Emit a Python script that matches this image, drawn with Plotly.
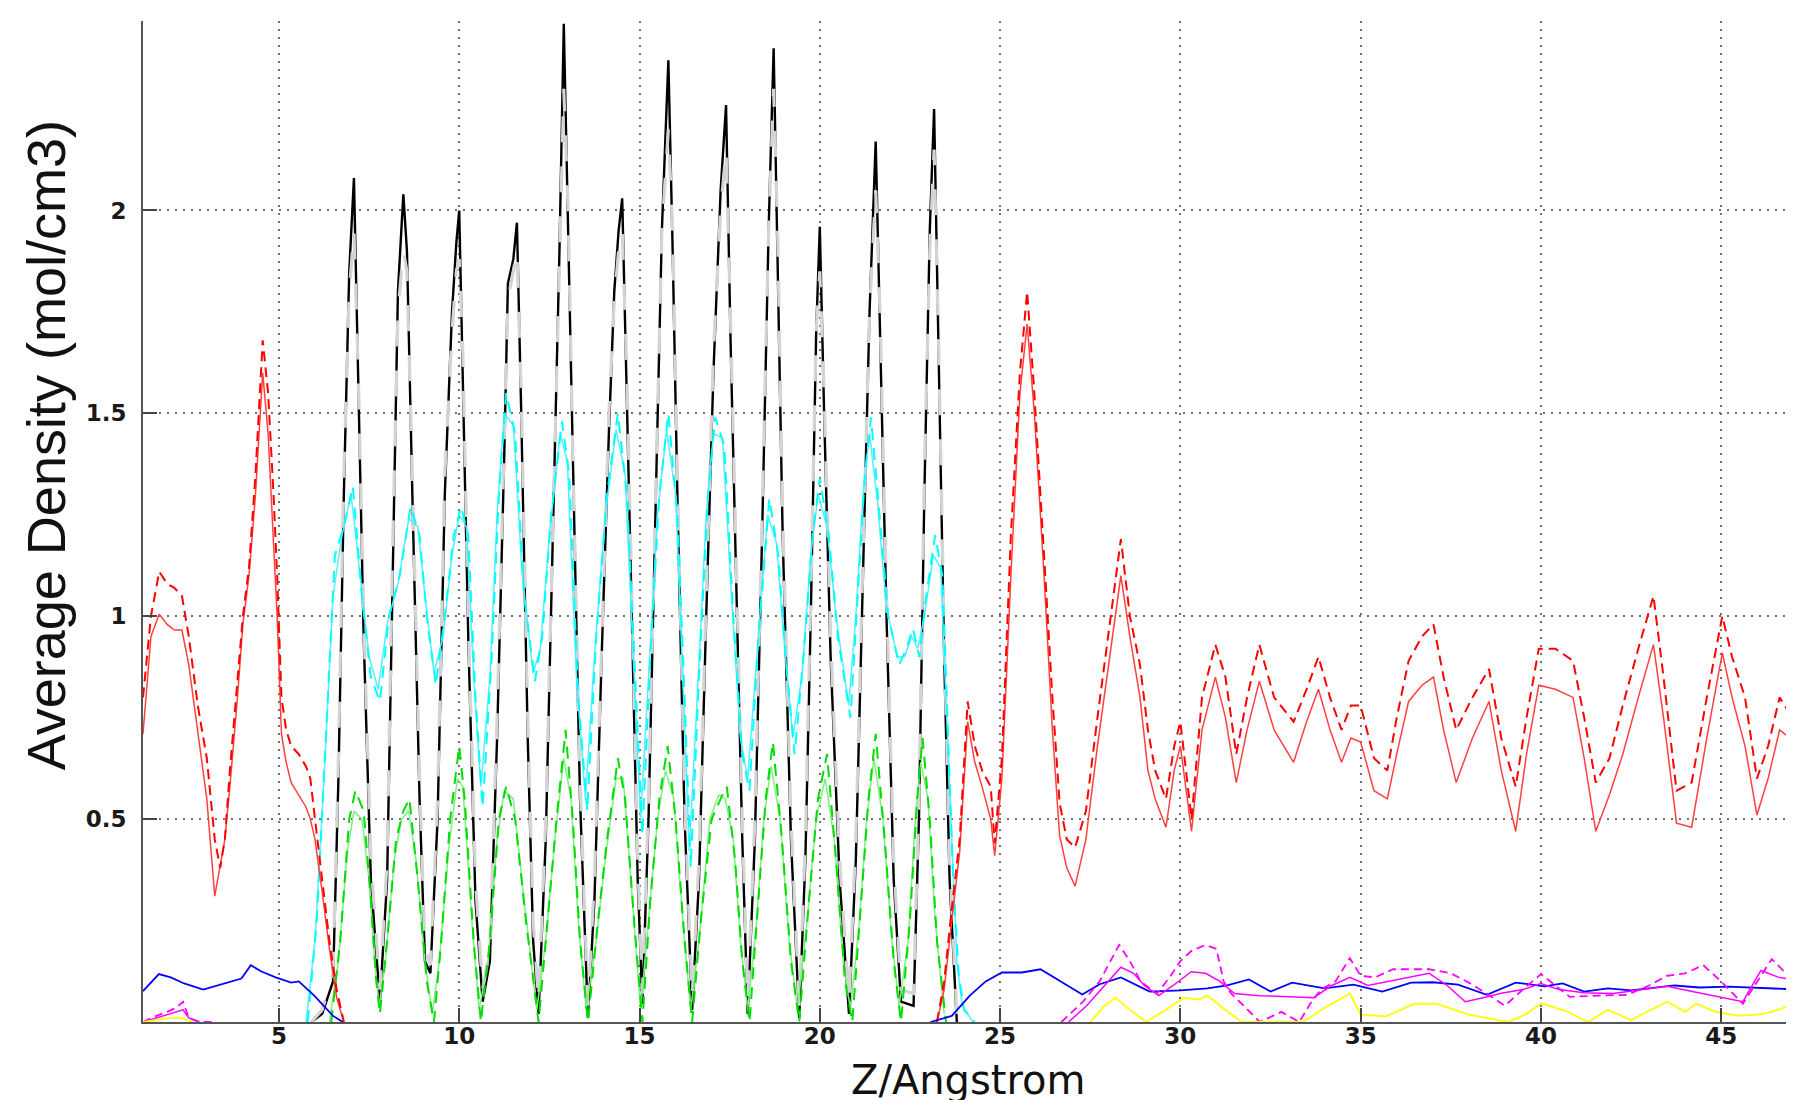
import plotly.graph_objects as go

# ---------------- data ----------------
black_x = [5.9, 6.2, 6.5, 6.65, 6.8, 6.95, 7.08, 7.2, 7.35, 7.55, 7.8,
           8.0, 8.15, 8.3, 8.45, 8.55, 8.7, 8.9, 9.05, 9.2,
           9.4, 9.6, 9.8, 9.92, 10.0, 10.1, 10.25, 10.45, 10.65,
           10.85, 11.05, 11.25, 11.35, 11.5, 11.6, 11.72, 11.9, 12.05, 12.2,
           12.4, 12.6, 12.78, 12.9, 13.02, 13.15, 13.35, 13.57,
           13.75, 13.95, 14.15, 14.3, 14.42, 14.52, 14.65, 14.8, 14.95, 15.08,
           15.25, 15.45, 15.62, 15.8, 15.92, 16.05, 16.25, 16.46,
           16.65, 16.85, 17.05, 17.25, 17.4, 17.52, 17.68, 17.85, 18.0,
           18.2, 18.4, 18.58, 18.72, 18.83, 18.97, 19.2, 19.43,
           19.6, 19.75, 19.9, 20.0, 20.12, 20.3, 20.55, 20.81,
           21.0, 21.2, 21.38, 21.55, 21.67, 21.85, 22.05, 22.25, 22.6,
           22.75, 22.9, 23.05, 23.17, 23.3, 23.45, 23.6, 23.8]
black_y = [0.00, 0.02, 0.10, 0.60, 1.30, 1.85, 2.08, 1.55, 0.95, 0.35, 0.05,
           0.35, 1.10, 1.80, 2.04, 1.90, 1.30, 0.55, 0.15, 0.12,
           0.50, 1.30, 1.75, 1.92, 2.00, 1.60, 0.95, 0.30, 0.05,
           0.15, 0.70, 1.40, 1.82, 1.88, 1.97, 1.50, 0.70, 0.20, 0.02,
           0.45, 1.20, 1.90, 2.46, 1.95, 1.35, 0.55, 0.01,
           0.30, 0.90, 1.45, 1.80, 1.95, 2.03, 1.55, 0.95, 0.35, 0.045,
           0.50, 1.25, 1.95, 2.37, 1.90, 1.30, 0.50, 0.03,
           0.35, 1.00, 1.60, 2.05, 2.26, 1.70, 1.10, 0.45, 0.02,
           0.45, 1.20, 1.95, 2.40, 1.90, 1.20, 0.45, 0.01,
           0.40, 1.00, 1.70, 1.96, 1.50, 0.90, 0.35, 0.02,
           0.40, 1.10, 1.75, 2.17, 1.70, 1.00, 0.35, 0.05, 0.04,
           0.50, 1.30, 1.95, 2.25, 1.60, 0.90, 0.35, 0.00]
gray_y = [0.00, 0.03, 0.12, 0.65, 1.35, 1.80, 1.95, 1.60, 1.00, 0.40, 0.08,
          0.40, 1.15, 1.75, 1.90, 1.85, 1.35, 0.60, 0.18, 0.14,
          0.55, 1.35, 1.70, 1.85, 1.88, 1.65, 1.00, 0.35, 0.08,
          0.18, 0.75, 1.45, 1.78, 1.85, 1.90, 1.55, 0.75, 0.25, 0.05,
          0.50, 1.25, 1.90, 2.30, 2.00, 1.40, 0.60, 0.04,
          0.35, 0.95, 1.50, 1.78, 1.90, 1.95, 1.60, 1.00, 0.40, 0.07,
          0.55, 1.30, 1.95, 2.20, 1.95, 1.35, 0.55, 0.06,
          0.40, 1.05, 1.65, 2.00, 2.15, 1.75, 1.15, 0.50, 0.05,
          0.50, 1.25, 1.95, 2.30, 1.95, 1.25, 0.50, 0.04,
          0.45, 1.05, 1.70, 1.85, 1.55, 0.95, 0.40, 0.05,
          0.45, 1.15, 1.75, 2.05, 1.75, 1.05, 0.40, 0.08, 0.07,
          0.55, 1.35, 1.90, 2.15, 1.65, 0.95, 0.40, 0.02]

cyan_a_x = [5.8, 6.05, 6.3, 6.55, 6.8, 7.05, 7.3, 7.55, 7.8, 8.05, 8.35, 8.65, 8.9, 9.1,
            9.35, 9.6, 9.85, 10.05, 10.25, 10.45, 10.65, 10.9, 11.1, 11.3, 11.55, 11.8,
            12.1, 12.3, 12.55, 12.85, 13.05, 13.3, 13.55, 13.8, 14.1, 14.4, 14.65, 14.85,
            15.08, 15.3, 15.55, 15.8, 16.05, 16.25, 16.42, 16.65, 16.9, 17.1, 17.35, 17.6,
            17.85, 18.05, 18.3, 18.6, 18.85, 19.05, 19.3, 19.55, 19.8, 20.0, 20.25, 20.5,
            20.85, 21.05, 21.25, 21.42, 21.65, 21.9, 22.2, 22.4, 22.58, 22.76, 22.95, 23.2,
            23.4, 23.55, 23.7, 23.85, 24.0, 24.3]
cyan_a_y = [0.0, 0.25, 0.7, 1.15, 1.22, 1.32, 1.05, 0.85, 0.79, 1.0, 1.1, 1.27, 1.2, 1.0,
            0.83, 1.0, 1.2, 1.27, 1.2, 0.8, 0.53, 0.9, 1.3, 1.55, 1.45, 1.05,
            0.84, 0.95, 1.25, 1.48, 1.35, 0.8, 0.52, 0.95, 1.3, 1.5, 1.3, 0.9,
            0.46, 0.9, 1.3, 1.5, 1.25, 0.8, 0.38, 0.85, 1.3, 1.49, 1.42, 1.0,
            0.66, 0.57, 0.95, 1.29, 1.15, 0.9, 0.66, 0.9, 1.2, 1.34, 1.2, 0.95,
            0.75, 1.05, 1.35, 1.49, 1.25, 1.0, 0.88, 0.92, 0.97, 0.9, 1.05, 1.2,
            1.1, 0.7, 0.35, 0.12, 0.03, 0.0]
cyan_b_x = [5.75, 6.0, 6.25, 6.5, 6.75, 7.0, 7.25, 7.5, 7.75, 8.0, 8.3, 8.6, 8.85, 9.05,
            9.3, 9.55, 9.8, 10.0, 10.2, 10.4, 10.6, 10.85, 11.05, 11.25, 11.5, 11.75,
            12.05, 12.25, 12.5, 12.8, 13.0, 13.25, 13.5, 13.75, 14.05, 14.35, 14.6, 14.8,
            15.03, 15.25, 15.5, 15.75, 16.0, 16.2, 16.38, 16.6, 16.85, 17.05, 17.3, 17.55,
            17.8, 18.0, 18.25, 18.55, 18.8, 19.0, 19.25, 19.5, 19.75, 19.95, 20.2, 20.45,
            20.8, 21.0, 21.2, 21.38, 21.6, 21.85, 22.15, 22.35, 22.55, 22.72, 22.9, 23.15,
            23.35, 23.5, 23.65, 23.8, 23.95, 24.25]
cyan_b_y = [0.0, 0.2, 0.6, 1.05, 1.2, 1.3, 1.1, 0.9, 0.82, 0.98, 1.08, 1.24, 1.22, 1.05,
            0.86, 0.95, 1.15, 1.25, 1.22, 0.85, 0.58, 0.85, 1.25, 1.5, 1.47, 1.1,
            0.86, 0.92, 1.2, 1.45, 1.38, 0.85, 0.55, 0.9, 1.25, 1.46, 1.35, 0.95,
            0.5, 0.85, 1.25, 1.46, 1.3, 0.85, 0.42, 0.8, 1.25, 1.45, 1.44, 1.05,
            0.7, 0.6, 0.9, 1.25, 1.18, 0.95, 0.7, 0.85, 1.15, 1.3, 1.22, 1.0,
            0.78, 1.0, 1.3, 1.45, 1.28, 1.02, 0.9, 0.9, 0.95, 0.92, 1.0, 1.15,
            1.12, 0.8, 0.45, 0.15, 0.04, 0.0]

green_a_x = [6.45, 6.7, 6.95, 7.12, 7.35, 7.55, 7.7, 7.8, 8.0, 8.25, 8.45, 8.62, 8.85, 9.1,
             9.3, 9.5, 9.75, 10.0, 10.15, 10.4, 10.6, 10.85, 11.1, 11.3, 11.55, 11.85,
             12.2, 12.45, 12.7, 12.95, 13.15, 13.35, 13.57, 13.85, 14.1, 14.4, 14.6, 14.85,
             15.08, 15.3, 15.55, 15.78, 16.0, 16.25, 16.46, 16.7, 17.0, 17.25, 17.42, 17.65,
             17.85, 18.05, 18.3, 18.5, 18.7, 18.95, 19.2, 19.43, 19.7, 19.95, 20.2, 20.45,
             20.7, 20.9, 21.15, 21.35, 21.55, 21.8, 22.05, 22.25, 22.5, 22.7, 22.85, 23.05,
             23.25, 23.5]
green_a_y = [0.0, 0.2, 0.5, 0.57, 0.52, 0.3, 0.1, 0.02, 0.2, 0.45, 0.52, 0.55, 0.35, 0.1,
             0.0, 0.2, 0.5, 0.68, 0.55, 0.2, 0.0, 0.2, 0.5, 0.58, 0.5, 0.25,
             0.0, 0.25, 0.5, 0.72, 0.5, 0.2, 0.0, 0.25, 0.45, 0.65, 0.55, 0.25,
             0.0, 0.3, 0.55, 0.68, 0.5, 0.2, 0.0, 0.25, 0.5, 0.55, 0.58, 0.4,
             0.15, 0.0, 0.3, 0.55, 0.69, 0.45, 0.15, 0.0, 0.3, 0.55, 0.66, 0.4,
             0.1, 0.0, 0.3, 0.55, 0.71, 0.45, 0.15, 0.0, 0.25, 0.55, 0.7, 0.5,
             0.2, 0.0]
green_b_x = [6.4, 6.65, 6.9, 7.08, 7.3, 7.5, 7.65, 7.78, 7.95, 8.2, 8.4, 8.6, 8.8, 9.05,
             9.25, 9.45, 9.7, 9.95, 10.1, 10.35, 10.55, 10.8, 11.05, 11.25, 11.5, 11.8,
             12.15, 12.4, 12.65, 12.9, 13.1, 13.3, 13.52, 13.8, 14.05, 14.35, 14.55, 14.8,
             15.03, 15.25, 15.5, 15.72, 15.95, 16.2, 16.42, 16.65, 16.95, 17.2, 17.38, 17.6,
             17.8, 18.0, 18.25, 18.45, 18.65, 18.9, 19.15, 19.38, 19.65, 19.9, 20.15, 20.4,
             20.65, 20.85, 21.1, 21.3, 21.5, 21.75, 22.0, 22.2, 22.45, 22.65, 22.8, 23.0,
             23.2, 23.45]
green_b_y = [0.0, 0.15, 0.42, 0.52, 0.5, 0.35, 0.15, 0.04, 0.15, 0.4, 0.5, 0.52, 0.4, 0.15,
             0.02, 0.15, 0.42, 0.6, 0.58, 0.25, 0.03, 0.15, 0.45, 0.57, 0.55, 0.3,
             0.03, 0.2, 0.45, 0.65, 0.55, 0.25, 0.03, 0.2, 0.4, 0.6, 0.6, 0.3,
             0.03, 0.25, 0.5, 0.62, 0.55, 0.25, 0.03, 0.2, 0.5, 0.56, 0.55, 0.45,
             0.2, 0.03, 0.25, 0.5, 0.63, 0.5, 0.2, 0.03, 0.25, 0.5, 0.6, 0.45,
             0.15, 0.03, 0.25, 0.5, 0.65, 0.5, 0.2, 0.04, 0.2, 0.5, 0.64, 0.55,
             0.25, 0.02]

red_x = [1.23, 1.45, 1.68, 1.9, 2.1, 2.31, 2.5, 2.75, 3.0, 3.22, 3.37, 3.5, 3.64, 3.85,
         4.0, 4.17, 4.35, 4.55, 4.7, 4.85, 4.95, 5.07, 5.2, 5.34, 5.55, 5.75, 5.87, 6.0,
         6.2, 6.4, 6.6, 6.8, None,
         23.25, 23.45, 23.66, 23.88, 24.1, 24.3, 24.5, 24.74, 24.85, 25.05, 25.3, 25.55,
         25.75, 25.95, 26.22, 26.45, 26.65, 26.85, 27.08, 27.38, 27.7, 28.0, 28.35, 28.6,
         28.88, 29.1, 29.3, 29.6, 29.83, 30.0, 30.15, 30.31, 30.6, 30.97, 31.25, 31.55,
         31.85, 32.19, 32.6, 33.14, 33.5, 33.83, 34.15, 34.47, 34.73, 35.0, 35.37, 35.74,
         36.0, 36.33, 36.7, 37.02, 37.3, 37.65, 38.1, 38.56, 38.9, 39.3, 39.6, 39.94,
         40.4, 40.89, 41.2, 41.52, 41.9, 42.27, 42.7, 43.12, 43.4, 43.76, 44.18, 44.6,
         45.03, 45.3, 45.66, 45.99, 46.3, 46.62, 46.9, 47.23]
red_dash_y = [0.80, 1.0, 1.11, 1.08, 1.07, 1.05, 0.95, 0.78, 0.65, 0.45, 0.38, 0.45, 0.62, 0.84,
              1.0, 1.12, 1.35, 1.68, 1.55, 1.3, 1.1, 0.80, 0.72, 0.68, 0.66, 0.63, 0.60, 0.50,
              0.35, 0.2, 0.08, 0.0, None,
              0.0, 0.1, 0.28, 0.45, 0.79, 0.68, 0.62, 0.58, 0.44, 0.65, 1.2, 1.6,
              1.8, 1.55, 1.15, 0.8, 0.54, 0.45, 0.43, 0.52, 0.75, 0.95, 1.19, 1.0,
              0.88, 0.72, 0.62, 0.55, 0.68, 0.74, 0.62, 0.50, 0.8, 0.93, 0.85, 0.66,
              0.8, 0.93, 0.8, 0.74, 0.82, 0.90, 0.8, 0.72, 0.78, 0.78, 0.65, 0.62,
              0.75, 0.89, 0.95, 0.98, 0.85, 0.72, 0.8, 0.87, 0.7, 0.58, 0.75, 0.92,
              0.92, 0.89, 0.75, 0.59, 0.65, 0.78, 0.92, 1.05, 0.85, 0.57, 0.59, 0.8,
              1.0, 0.9, 0.80, 0.60, 0.68, 0.80, 0.76, 0.85]
red_solid_y = [0.71, 0.95, 1.005, 0.98, 0.966, 0.966, 0.88, 0.72, 0.55, 0.31, 0.38, 0.45, 0.58, 0.80,
               0.98, 1.1, 1.3, 1.6, 1.45, 1.2, 1.0, 0.71, 0.64, 0.59, 0.56, 0.53, 0.50, 0.45,
               0.32, 0.18, 0.06, 0.0, None,
               0.0, 0.08, 0.25, 0.42, 0.74, 0.64, 0.58, 0.5, 0.41, 0.6, 1.1, 1.55,
               1.72, 1.5, 1.1, 0.72, 0.46, 0.38, 0.335, 0.45, 0.68, 0.88, 1.1, 0.95,
               0.8, 0.62, 0.55, 0.48, 0.62, 0.68, 0.58, 0.47, 0.72, 0.85, 0.75, 0.59,
               0.72, 0.84, 0.72, 0.64, 0.74, 0.82, 0.72, 0.64, 0.70, 0.69, 0.57, 0.55,
               0.66, 0.79, 0.83, 0.85, 0.72, 0.59, 0.7, 0.79, 0.62, 0.47, 0.66, 0.83,
               0.82, 0.80, 0.65, 0.47, 0.56, 0.66, 0.8, 0.93, 0.75, 0.49, 0.48, 0.7,
               0.91, 0.8, 0.68, 0.51, 0.6, 0.72, 0.7, 0.79]

blue_x = [1.23, 1.67, 2.0, 2.37, 2.9, 3.3, 3.64, 3.96, 4.22, 4.5, 4.91, 5.34, 5.55, 5.98,
          6.5, 6.77, None,
          23.07, 23.66, 24.16, 24.6, 25.05, 25.6, 26.12, 26.7, 27.28, 27.76, 28.35, 29.15,
          30.0, 30.75, 31.3, 31.9, 32.5, 33.1, 34.0, 34.8, 35.6, 36.4, 37.0, 37.7, 38.5,
          39.3, 40.1, 40.6, 41.2, 41.86, 42.5, 43.7, 44.4, 45.2, 46.0, 46.9, 47.24]
blue_y = [0.076, 0.118, 0.11, 0.095, 0.08, 0.09, 0.10, 0.107, 0.14, 0.125, 0.11, 0.097, 0.10, 0.065,
          0.015, 0.0, None,
          0.0, 0.015, 0.065, 0.1, 0.122, 0.122, 0.13, 0.098, 0.068, 0.093, 0.11, 0.075,
          0.078, 0.083, 0.09, 0.105, 0.075, 0.097, 0.083, 0.092, 0.075, 0.097, 0.098, 0.092, 0.067,
          0.097, 0.088, 0.095, 0.075, 0.083, 0.078, 0.09, 0.085, 0.087, 0.085, 0.081, 0.06]

magenta_a_x = [1.23, 1.6, 1.9, 2.15, 2.34, 2.5, 2.8, 3.2, None,
               26.7, 27.3, 27.76, 28.3, 28.6, 28.9, 29.35, 29.7, 30.0, 30.3, 30.7, 31.0,
               31.2, 31.4, 31.7, 32.2, 32.8, 33.3, 33.6, 33.9, 34.3, 34.7, 35.0, 35.4,
               35.9, 36.4, 36.9, 37.5, 38.0, 38.5, 39.0, 39.5, 40.0, 40.4, 40.8, 41.6,
               42.4, 43.0, 43.5, 44.0, 44.5, 45.0, 45.6, 46.0, 46.4, 46.8, 47.24]
magenta_a_y = [0.0, 0.015, 0.025, 0.035, 0.05, 0.01, 0.0, 0.0, None,
               0.0, 0.05, 0.1, 0.19, 0.15, 0.1, 0.07, 0.11, 0.15, 0.175, 0.19, 0.18,
               0.1, 0.071, 0.045, 0.0, 0.025, 0.0, 0.045, 0.08, 0.1, 0.157, 0.114, 0.11,
               0.13, 0.13, 0.13, 0.12, 0.097, 0.07, 0.04, 0.08, 0.118, 0.09, 0.062, 0.065,
               0.067, 0.09, 0.114, 0.12, 0.14, 0.1, 0.045, 0.1, 0.155, 0.12, 0.09]
magenta_b_x = [1.23, 1.6, 1.9, 2.15, 2.34, 2.5, 2.8, None,
               26.9, 27.4, 27.8, 28.35, 28.7, 29.0, 29.4, 29.8, 30.3, 30.7, 31.1, 31.5,
               32.2, 33.0, 33.7, 34.2, 34.7, 35.2, 35.8, 36.4, 36.9, 37.4, 37.9, 38.4,
               38.9, 39.5, 40.0, 40.5, 41.2, 42.0, 42.8, 43.5, 44.2, 44.8, 45.6, 46.1,
               46.6, 47.24]
magenta_b_y = [0.0, 0.01, 0.02, 0.025, 0.03, 0.01, 0.0, None,
               0.0, 0.04, 0.08, 0.135, 0.12, 0.09, 0.065, 0.09, 0.124, 0.12, 0.1, 0.07,
               0.065, 0.062, 0.06, 0.09, 0.11, 0.09, 0.10, 0.11, 0.12, 0.09, 0.05, 0.06,
               0.071, 0.08, 0.095, 0.08, 0.072, 0.07, 0.08, 0.088, 0.075, 0.064, 0.05, 0.127,
               0.11, 0.1]

yellow_x = [1.23, 1.6, 2.0, 2.3, 2.6, None,
            27.5, 27.9, 28.2, 28.6, 29.05, 29.6, 30.1, 30.5, 30.75, 31.1, 31.7, 33.4,
            34.0, 34.7, 35.0, 35.7, 36.5, 37.1, 38.0, 39.1, 39.6, 40.0, 40.7, 41.3,
            41.86, 42.5, 43.5, 44.0, 44.3, 44.85, 45.5, 46.2, 46.8, 47.24]
yellow_y = [0.0, 0.005, 0.01, 0.01, 0.0, None,
            0.0, 0.04, 0.06, 0.03, 0.0, 0.03, 0.06, 0.055, 0.065, 0.04, 0.0, 0.0,
            0.035, 0.07, 0.018, 0.014, 0.045, 0.045, 0.018, 0.0, 0.02, 0.046, 0.027, 0.0,
            0.03, 0.005, 0.05, 0.025, 0.045, 0.025, 0.015, 0.02, 0.037, 0.05]

x_ticks = [5, 10, 15, 20, 25, 30, 35, 40, 45]
y_ticks = [0.5, 1, 1.5, 2]
y_tick_labels = ["0.5", "1", "1.5", "2"]
x_title = "Z/Angstrom"
y_title = "Average Density (mol/cm3)"

# ---------------- figure ----------------
fig = go.Figure()


def add(x, y, color, width, dash="solid"):
    fig.add_trace(go.Scatter(x=x, y=y, mode="lines", connectgaps=False,
                             line=dict(color=color, width=width, dash=dash),
                             hoverinfo="skip", showlegend=False))


add(black_x, black_y, "#000000", 2.4)
add(black_x, gray_y, "#d4d4d4", 3.2, "26px,24px")
add(cyan_b_x, cyan_b_y, "#55eeff", 1.5)
add(cyan_a_x, cyan_a_y, "#00ffff", 2, "12px,8px")
add(green_b_x, green_b_y, "#80ee80", 1.5)
add(green_a_x, green_a_y, "#00dd00", 2, "12px,8px")
add(red_x, red_solid_y, "#ff4040", 1.5)
add(red_x, red_dash_y, "#ff0000", 2, "10px,6px")
add(blue_x, blue_y, "#0000ff", 1.8)
add(magenta_b_x, magenta_b_y, "#ff00ff", 1.5)
add(magenta_a_x, magenta_a_y, "#ff00ff", 1.8, "8px,5px")
add(yellow_x, yellow_y, "#ffff00", 1.8)

L, R, T, B = 135, 0, 13, 86
PW = 1794 - L - R
PH = 1100 - T - B

axis_common = dict(
    showline=True, linecolor="#555555", linewidth=2,
    ticks="inside", ticklen=14, tickwidth=1.5, tickcolor="#444444",
    showgrid=True, gridcolor="#6f6f6f", gridwidth=1.5, griddash="2px,6px",
    zeroline=False, mirror=False,
    tickfont=dict(family="DejaVu Sans", size=23, color="#1a1a1a", weight="bold"),
)

fig.update_xaxes(range=[1.23, 47.24], tickmode="array", tickvals=x_ticks,
                 ticktext=[str(v) for v in x_ticks], ticklabelstandoff=-8,
                 **axis_common)
fig.update_yaxes(range=[0, 2.467], tickmode="array", tickvals=y_ticks,
                 ticktext=y_tick_labels, ticklabelstandoff=10, **axis_common)

fig.add_annotation(text=y_title, xref="paper", yref="paper",
                   x=(38 - L) / PW, y=(1013.7 - 437) / PH,
                   xanchor="center", yanchor="middle", textangle=-90,
                   showarrow=False,
                   font=dict(family="Liberation Sans", size=54, color="#111111"))
fig.add_annotation(text=x_title, xref="paper", yref="paper",
                   x=(960.5 - L) / PW, y=(1013.7 - 1097) / PH,
                   xanchor="center", yanchor="bottom", showarrow=False,
                   font=dict(family="DejaVu Sans", size=40, color="#111111"))

fig.update_layout(
    width=1794, height=1100,
    margin=dict(l=L, r=R, t=T, b=B, autoexpand=False),
    paper_bgcolor="white", plot_bgcolor="white",
    showlegend=False,
)

fig.write_html("out.html")
